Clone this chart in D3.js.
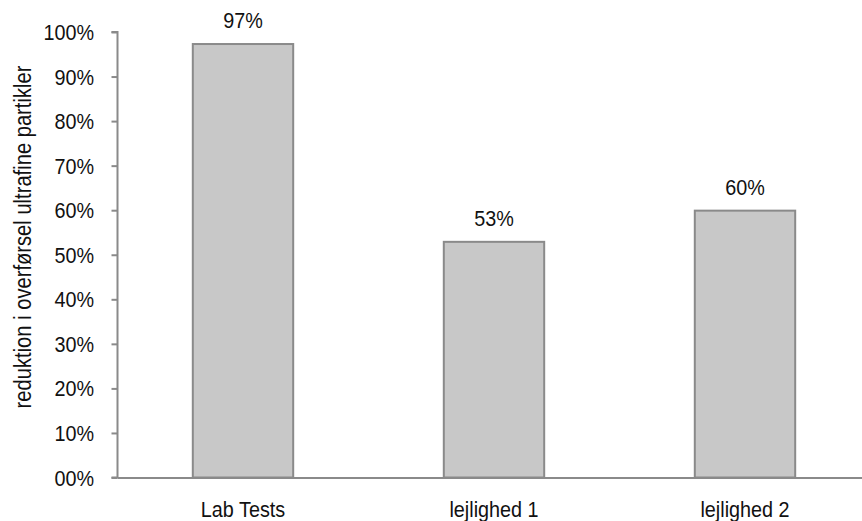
<!DOCTYPE html>
<html><head><meta charset="utf-8">
<script src="https://cdn.jsdelivr.net/npm/d3@7"></script>
<style>body{margin:0;background:#fff}</style>
</head><body>
<script>
const categories = ["Lab Tests", "lejlighed 1", "lejlighed 2"];
const values = [97.3, 52.9, 59.9];
const valueLabels = ["97%", "53%", "60%"];
const yTicks = [0,10,20,30,40,50,60,70,80,90,100];
const yTickLabels = ["00%","10%","20%","30%","40%","50%","60%","70%","80%","90%","100%"];
const yTitle = "reduktion i overførsel ultrafine partikler";

const W = 862, H = 521;
const font = "'Liberation Sans',Arial,sans-serif";
const SX = 0.9; // horizontal condensing to mimic a narrow face
const svg = d3.select("body").append("svg").attr("width", W).attr("height", H);

const x = d3.scaleBand().domain(categories).range([117.5, 870.5]).paddingInner(0.6).paddingOuter(0.3);
const y = d3.scaleLinear().domain([0, 100]).range([477.5, 32]);

// bars
svg.selectAll("rect.bar").data(values).join("rect")
  .attr("class","bar")
  .attr("x", (d,i) => x(categories[i]))
  .attr("width", x.bandwidth())
  .attr("y", d => y(d))
  .attr("height", d => y(0) - y(d))
  .attr("fill", "#c8c8c8")
  .attr("stroke", "#8a8a8a")
  .attr("stroke-width", 2);

// value labels
svg.selectAll("text.val").data(values).join("text")
  .attr("class","val")
  .attr("transform", (d,i) => `translate(${x(categories[i]) + x.bandwidth()/2},${y(d) - 16}) scale(${SX},1)`)
  .attr("text-anchor","middle")
  .style("font-family", font).style("font-size","22px").attr("fill","#111")
  .text((d,i) => valueLabels[i]);

// y axis
const yAxis = d3.axisLeft(y).tickValues(yTicks).tickSize(6).tickFormat((d,i) => yTickLabels[i]);
const gy = svg.append("g").attr("transform","translate(117.5,0)").call(yAxis);
gy.select(".domain").attr("stroke","#8a8a8a").attr("stroke-width",2).attr("d","M-6,32H0V477.5H-6");
gy.selectAll(".tick line").attr("stroke","#8a8a8a").attr("stroke-width",2);
gy.selectAll(".tick text")
  .attr("x", null).attr("dy", null)
  .attr("transform", `translate(-23.5,7.5) scale(${SX},1)`)
  .style("font-family", font).style("font-size","22px").attr("fill","#111");

// x axis
const xAxis = d3.axisBottom(x).tickSize(0);
const gx = svg.append("g").attr("transform","translate(0,477.5)").call(xAxis);
gx.select(".domain").attr("stroke","#8a8a8a").attr("stroke-width",2);
gx.selectAll(".tick text")
  .attr("y", null).attr("dy", null)
  .attr("transform", `translate(0,39) scale(${SX},1)`)
  .style("font-family", font).style("font-size","22px").attr("fill","#111");

// y title
svg.append("text")
  .attr("transform","translate(31,237) rotate(-90) scale(0.84,1)")
  .attr("text-anchor","middle")
  .style("font-family", font).style("font-size","24px").attr("fill","#111")
  .text(yTitle);
</script>
</body></html>
